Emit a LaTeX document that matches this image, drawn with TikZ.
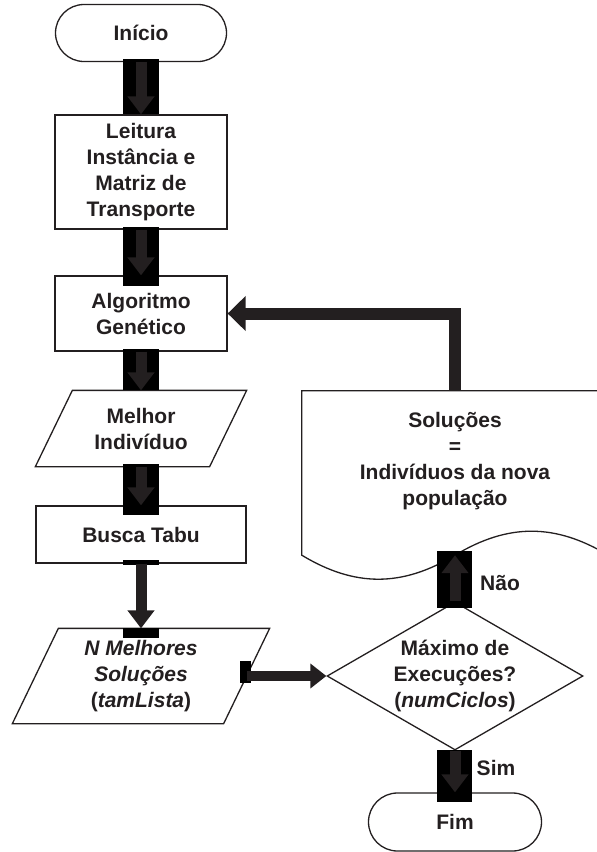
\documentclass[tikz,border=0pt]{standalone}
\usepackage{fontspec}
\setmainfont{Liberation Sans}
\usepackage{xcolor}
\usepackage{tikz}
\usetikzlibrary{shapes.geometric,shapes.misc,arrows.meta,calc}

\definecolor{tinta}{RGB}{35,31,32}

\begin{document}
\begin{tikzpicture}[x=1pt, y=-1pt,
	font=\fontsize{21}{26}\selectfont\bfseries,
	caixa/.style={draw=tinta, line width=1.3pt, fill=white, text=tinta, align=center, inner sep=0pt},
	terminal/.style={caixa, rounded rectangle, minimum width=171pt, minimum height=57pt},
	dados/.style={caixa, draw=none, fill=none},
	decisao/.style={caixa, diamond, aspect=1.73},
	contorno/.style={draw=tinta, line width=1.3pt, fill=white},
	seta/.style={draw=tinta, line width=11pt, -{Triangle[length=18pt,width=26pt]}},
	fundo/.style={fill=black}
]
\useasboundingbox (0,0) rectangle (597,852);
\clip (0,0) rectangle (597,852);

% ---- coluna principal ----
\node[terminal] (inicio) at (141,33) {Início};
\node[caixa, minimum width=172pt, minimum height=114pt] (leitura) at (141,172) {Leitura\\Instância e\\Matriz de\\Transporte};
\node[caixa, minimum width=172pt, minimum height=75pt] (algo) at (141,313.5) {Algoritmo\\Genético};
\node[dados, minimum width=210pt, minimum height=75pt] (melhor) at (141,428.5) {};
\node[caixa, minimum width=210pt, minimum height=57pt] (busca) at (141,534.5) {Busca Tabu};
\node[dados, minimum width=256pt, minimum height=94pt] (nmelhores) at (141,676) {};
% paralelogramos de dados
\foreach \n/\d in {melhor/37, nmelhores/46}
	\draw[contorno] (\n.south west) -- ($(\n.north west)+(\d,0)$) -- (\n.north east) -- ($(\n.south east)+(-\d,0)$) -- cycle;
\node[text=tinta, align=center] (melhortxt) at (melhor) {Melhor\\Indivíduo};
\node[text=tinta, align=center] (nmelhorestxt) at (nmelhores) {\textit{N Melhores}\\\textit{Soluções}\\(\textit{tamLista})};
\coordinate (saida) at ($(nmelhores.east)+(-23,0)$);

% ---- coluna direita ----
\node[decisao, minimum width=256pt, minimum height=148pt] (maximo) at (455,676) {Máximo de\\Execuções?\\(\textit{numCiclos})};
\node[terminal, minimum width=173pt, minimum height=58pt] (fim) at (455,822) {Fim};
\node[minimum width=306pt, minimum height=164pt] (doc) at (455,473) {};
\draw[contorno] (doc.south west) -- (doc.north west) -- (doc.north east) -- (doc.south east)
	.. controls +(-53,-32) and +(53,-32) .. (doc.south)
	.. controls +(-53,32) and +(53,32) .. (doc.south west) -- cycle;
\node[text=tinta, align=center] (solucoes) at (455,461) {Soluções\\=\\Indivíduos da nova\\população};

% ---- setas ----
\foreach \a/\b/\e in {inicio/leitura/0, leitura/algo/11, algo/melhor/0, melhor/busca/10}{
	\fill[fundo] ($(\a.south)+(-18,-3)$) rectangle ($(\a.south |- \b.north)+(18,\e)$);
	\draw[seta] (\a.south) -- (\a.south |- \b.north);
}
\fill[fundo] ($(busca.south)+(-18,-4)$) rectangle ($(busca.south)+(18,1)$);
\fill[fundo] ($(nmelhores.north)+(-18,0)$) rectangle ($(nmelhores.north)+(18,10)$);
\draw[seta] (busca.south) -- (nmelhores.north);

\fill[fundo] ($(saida)+(-7,-15)$) rectangle ($(saida)+(4,7)$);
\draw[seta, line width=10pt, -{Triangle[length=16pt,width=24pt]}] (saida) -- (maximo.west);

\fill[fundo] ($(maximo.north)+(-18,-50)$) rectangle ($(maximo.north)+(17,7)$);
\draw[seta] (maximo.north) -- (doc.south);
\node[text=tinta] (nao) at (500,583) {Não};

\fill[fundo] ($(maximo.south)+(-18,-1)$) rectangle ($(fim.north)+(17,10)$);
\draw[seta] (maximo.south) -- (fim.north);
\node[text=tinta] (sim) at (496,768) {Sim};

\draw[seta, line width=12pt, line join=miter, -{Triangle[length=18pt,width=34pt]}] (doc.north) |- (algo.east);
\end{tikzpicture}
\end{document}
